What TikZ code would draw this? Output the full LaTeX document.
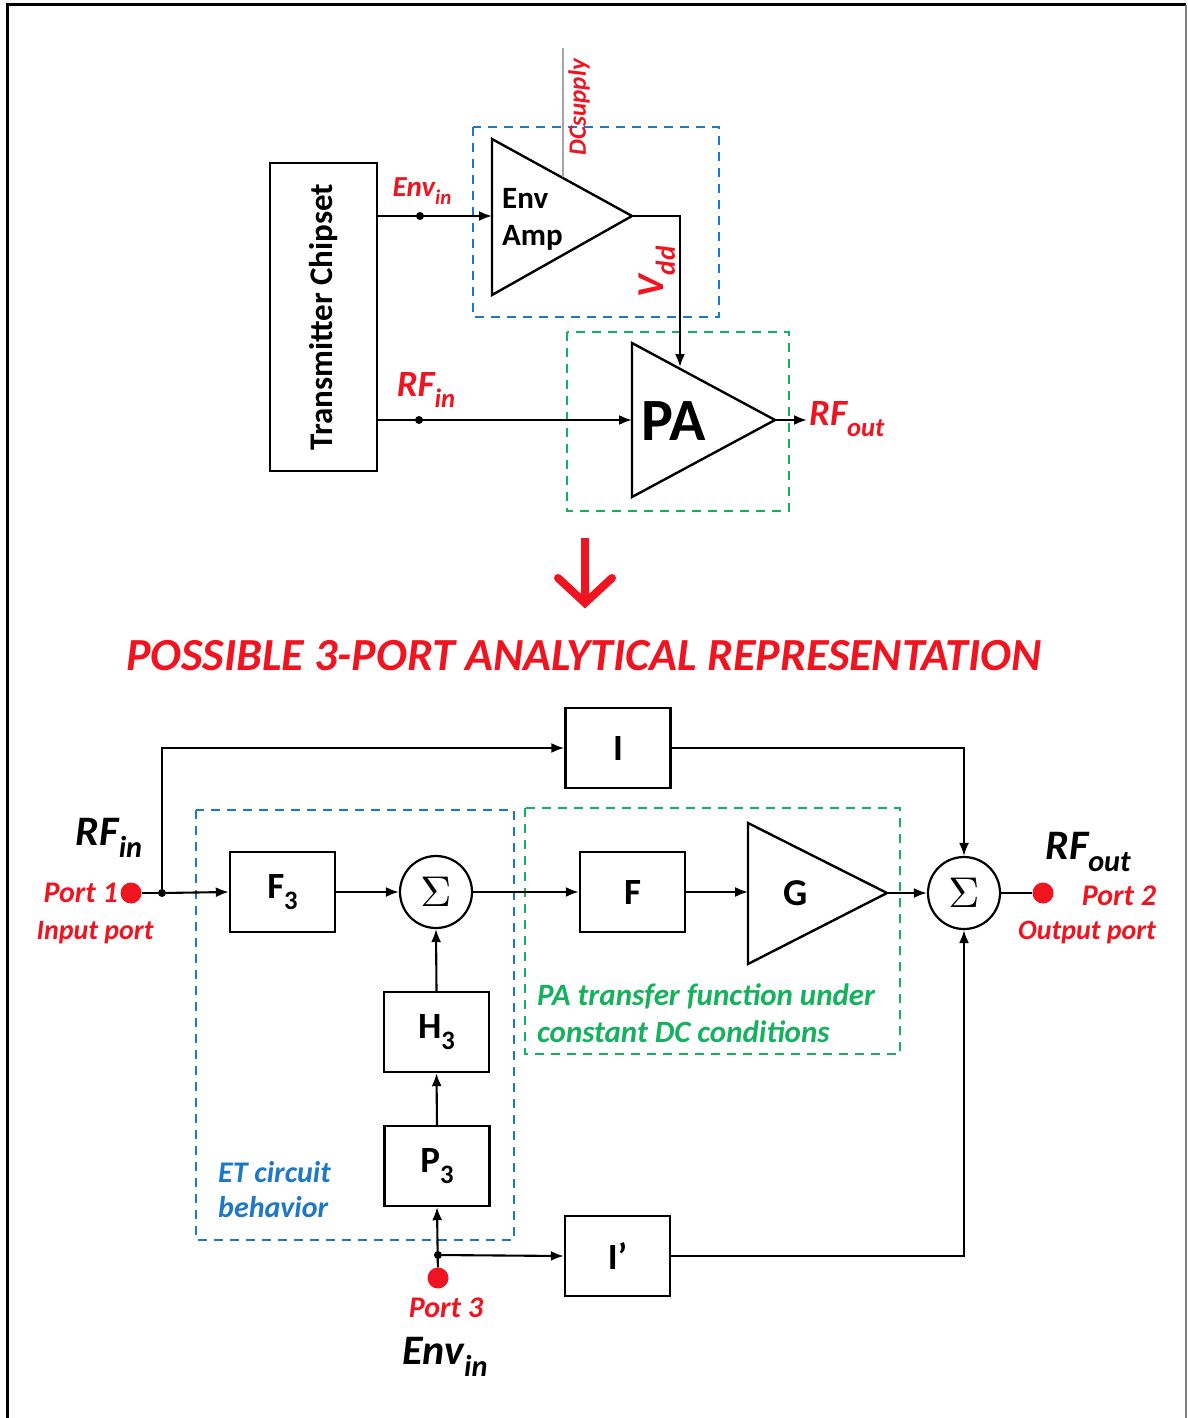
\documentclass[tikz,border=0pt]{standalone}
\usepackage{fontspec}
\setmainfont{Carlito}
\usetikzlibrary{arrows.meta,calc}
\definecolor{myred}{RGB}{240,20,32}
\definecolor{myblue}{RGB}{30,120,200}
\definecolor{mygreen}{RGB}{20,178,92}
\newcommand{\lsub}[1]{\raisebox{-0.3em}{\scalebox{0.72}{#1}}}
\newcommand{\fsz}[1]{\fontsize{#1}{#1}\selectfont}
\begin{document}
\begin{tikzpicture}[x=1pt,y=-1pt,
  conn/.style={line width=2.1pt,-{Latex[length=13pt,width=10pt]}},
  wire/.style={line width=2.1pt},
  blk/.style={draw,line width=2.4pt,minimum width=105pt,minimum height=80pt,inner sep=0pt,font=\fsz{37}\bfseries},
  sumnode/.style={circle,draw,line width=2.2pt,minimum size=72pt,inner sep=0pt},
  tri/.style={line width=2.4pt,line join=miter},
  bdash/.style={myblue,line width=2.2pt,dash pattern=on 9pt off 7pt},
  gdash/.style={mygreen,line width=2.2pt,dash pattern=on 9pt off 7pt},
  redlab/.style={myred,inner sep=0pt},
  blacklab/.style={black,inner sep=0pt},
  jdot/.style={circle,fill=black,inner sep=0pt,minimum size=8pt},
  pdot/.style={circle,fill=myred,inner sep=0pt,minimum size=21pt}
]
\useasboundingbox (0,0) rectangle (1187,1418);
\fill[white] (0,0) rectangle (1187,1418);
% frame
\draw[line width=3pt] (7,1418) -- (7,5) -- (1186,5);
\draw[gray,line width=2pt] (1186,5) -- (1186,1418);

% ---------------- top part ----------------
\node[draw,line width=2.4pt,minimum width=107pt,minimum height=308pt,inner sep=0pt] (TC) at (323.5,317) {};
\node[rotate=90,font=\fsz{33}\bfseries] (TCt) at (TC.center) {Transmitter Chipset};

% dashed boxes
\draw[bdash] (473,127) rectangle (719,317);
\draw[gdash] (567,332) rectangle (789,511);

% Env amp triangle
\coordinate (EAt) at (492,139);
\coordinate (EAb) at (492,295);
\coordinate (EAa) at (632,216);
\draw[tri] (EAt) -- (EAa) -- (EAb) -- cycle;
\node[anchor=west,font=\fsz{31}\bfseries,inner sep=0pt] (envt) at (502,198) {Env};
\node[anchor=west,font=\fsz{31}\bfseries,inner sep=0pt] (ampt) at (502,238) {Amp};

% PA triangle
\coordinate (PAt) at (632,343);
\coordinate (PAb) at (632,497);
\coordinate (PAa) at (775,420);
\draw[tri] (PAt) -- (PAa) -- (PAb) -- cycle;
\node[font=\fsz{60}\bfseries,inner sep=0pt] (pat) at (674,421) {PA};

% Env_in connection
\coordinate (envin) at (492,216);
\draw[conn] (TC.east |- envin) -- (envin);
\node[jdot] (j1) at (420,216) {};
\node[redlab,font=\fsz{29}\bfseries\itshape] (envlab) at (422,191) {Env\lsub{in}};

% RF_in connection
\coordinate (rfin) at (632,420);
\draw[conn] (TC.east |- rfin) -- (rfin);
\node[jdot] (j2) at (419,420) {};
\node[redlab,font=\fsz{37}\bfseries\itshape] (rfinlab) at (426,390) {RF\lsub{in}};

% Vdd
\coordinate (vddc) at (680,367);
\draw[conn] (EAa) -| (vddc);
\node[redlab,rotate=90,font=\fsz{38}\bfseries\itshape] (vddlab) at (657,272) {V\lsub{dd}};

% RF_out
\coordinate (rfo) at (807,420);
\draw[conn] (PAa) -- (rfo);
\node[redlab,anchor=west,font=\fsz{37}\bfseries\itshape] (rfoutlab) at (809,419) {RF\lsub{out}};

% DC supply
\coordinate (dctop) at (563,48);
\coordinate (dcbot) at (563,177);
\draw[gray!70,line width=1.2pt] (dctop) -- (dcbot);
\node[redlab,rotate=90,font=\fsz{25}\bfseries\itshape] (dclab) at (579,107) {DCsupply};

% big red arrow
\coordinate (ra1) at (585,538);
\coordinate (ra2) at (585,603);
\draw[myred,line width=8pt] (ra1) -- (ra2);
\draw[myred,line width=8pt,line cap=round,line join=miter] (558,578) -- (ra2) -- (612,578);

% title
\node[redlab,font=\fsz{46}\bfseries\itshape] (title) at (584,656) {POSSIBLE 3-PORT ANALYTICAL REPRESENTATION};

% ---------------- bottom part ----------------
\draw[bdash] (196,810) rectangle (514,1240);
\draw[gdash] (525,808) rectangle (900,1054);

\node[blk] (I) at (618,748) {I};
\node[blk] (F3) at (282.5,892) {F\lsub{3}};
\node[sumnode] (S1) at (436,892) {\scalebox{4.3}{$\Sigma$}};
\node[blk] (F) at (632.5,892) {F};
\node[sumnode] (S2) at (964,893) {\scalebox{4.3}{$\Sigma$}};
\node[blk] (H3) at (436.5,1032) {H\lsub{3}};
\node[blk] (P3) at (437,1166) {P\lsub{3}};
\node[blk] (Ip) at (617.5,1256) {I’};

% G triangle
\coordinate (Gt) at (748,823);
\coordinate (Gb) at (748,964);
\coordinate (Ga) at (887,893);
\draw[tri] (Gt) -- (Ga) -- (Gb) -- cycle;
\node[font=\fsz{38}\bfseries,inner sep=0pt] (Gl) at (796,893) {G};

% ports
\node[pdot] (P1) at (131,893) {};
\node[jdot] (J1) at (162,893) {};
\node[pdot] (P2) at (1043,893) {};
\node[pdot] (Pt3) at (438,1278) {};
\node[jdot] (J3) at (438,1255) {};

% connectors
\draw[wire] (P1) -- (J1);
\draw[conn] (J1) -- (F3.west);
\draw[conn] (J1) |- (I.west);
\draw[conn] (I.east) -| (S2.north);
\draw[conn] (F3.east) -- (S1.west);
\draw[conn] (S1.east) -- (F.west);
\draw[conn] (F.east) -- (F.east -| Gt);
\draw[conn] (Ga) -- (S2.west);
\draw[wire] (S2.east) -- (P2);
\draw[conn] (H3.north) -- (S1.south);
\draw[conn] (P3.north) -- (H3.south);
\draw[conn] (Pt3) -- (P3.south);
\draw[conn] (J3) -- (Ip.west);
\draw[conn] (Ip.east) -| (S2.south);

% labels
\node[blacklab,font=\fsz{42}\bfseries\itshape] (rfinB) at (109,838) {RF\lsub{in}};
\node[redlab,anchor=east,font=\fsz{30}\bfseries\itshape] (p1lab) at (118,893) {Port 1};
\node[redlab,font=\fsz{28}\bfseries\itshape] (inlab) at (95,933) {Input port};
\node[blacklab,font=\fsz{42}\bfseries\itshape] (rfoutB) at (1088,852) {RF\lsub{out}};
\node[redlab,font=\fsz{30}\bfseries\itshape] (p2lab) at (1119,896) {Port 2};
\node[redlab,font=\fsz{28}\bfseries\itshape] (outlab) at (1087,933) {Output port};
\node[redlab,font=\fsz{30}\bfseries\itshape] (p3lab) at (446,1308) {Port 3};
\node[blacklab,font=\fsz{42}\bfseries\itshape] (envB) at (445,1357) {Env\lsub{in}};
\node[myblue,anchor=west,align=left,font=\fsz{30}\bfseries\itshape,inner sep=0pt] (etlab) at (218,1190) {ET circuit\\[5pt]behavior};
\node[mygreen,anchor=west,align=left,font=\fsz{31}\bfseries\itshape,inner sep=0pt] (palab) at (537,1013) {PA transfer function under\\[6pt]constant DC conditions};
\end{tikzpicture}
\end{document}
